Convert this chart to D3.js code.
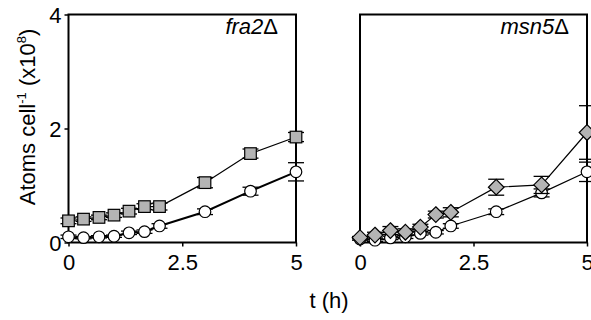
<!DOCTYPE html>
<html><head><meta charset="utf-8">
<script src="https://cdn.jsdelivr.net/npm/d3@7"></script>
<style>body{margin:0;background:#fff}svg{display:block}text{font-family:"Liberation Sans",Arial,sans-serif;fill:#000}</style>
</head><body>
<script>
const times = [0, 0.33, 0.67, 1, 1.33, 1.67, 2, 3, 4, 5];
const xTicks = [0, 2.5, 5];
const yTicks = [0, 2, 4];
// wild-type (open circles), shared by both panels
const wtLeft = [0.10, 0.085, 0.10, 0.11, 0.17, 0.19, 0.29, 0.54, 0.90, 1.24];
const wtLeftErr = [0.03, 0.02, 0.02, 0.02, 0.03, 0.03, 0.04, 0.05, 0.07, 0.16];
const fra2 = [0.38, 0.41, 0.44, 0.48, 0.55, 0.63, 0.63, 1.05, 1.56, 1.85];
const fra2Err = [0.05, 0.04, 0.04, 0.04, 0.05, 0.05, 0.06, 0.09, 0.08, 0.08];
const wtRight = [0.06, 0.04, 0.08, 0.10, 0.16, 0.18, 0.29, 0.54, 0.87, 1.24];
const wtRightErr = [0.02, 0.02, 0.03, 0.03, 0.03, 0.03, 0.04, 0.05, 0.07, 0.17];
const msn5 = [0.085, 0.13, 0.21, 0.18, 0.27, 0.49, 0.53, 0.97, 1.01, 1.93];
const msn5Err = [0.02, 0.05, 0.07, 0.06, 0.05, 0.06, 0.08, 0.14, 0.15, 0.47];
const panelLabels = ["fra2", "msn5"];

const W = 591, H = 320;
const FONT = '"Liberation Sans",Arial,sans-serif';
const svg = d3.select("body").append("svg").attr("width", W).attr("height", H);
const y = d3.scaleLinear().domain([0, 4]).range([242.5, 14.5]);

const panels = [
  {x0: 68.5, x1: 296, label: panelLabels[0], yLabels: true,
   series: [
     {vals: wtLeft, err: wtLeftErr, shape: "circle", lw: 2},
     {vals: fra2, err: fra2Err, shape: "square", lw: 1.2}
   ]},
  {x0: 360, x1: 587, label: panelLabels[1], yLabels: false,
   series: [
     {vals: wtRight, err: wtRightErr, shape: "circle", lw: 1.2},
     {vals: msn5, err: msn5Err, shape: "diamond", lw: 1.2}
   ]}
];

panels.forEach(p => {
  const x = d3.scaleLinear().domain([0, 5]).range([p.x0, p.x1]);
  const g = svg.append("g");
  const xa = d3.axisBottom(x).tickValues(xTicks).tickSize(4).tickPadding(3).tickFormat(d3.format("~g"));
  const gx = g.append("g").attr("transform", `translate(0,${y(0)})`).call(xa);
  gx.select(".domain").remove();
  gx.selectAll("line").attr("stroke", "#000").attr("stroke-width", 1.5);
  gx.selectAll("text").attr("font-size", 22).attr("dy", "0.93em").style("font-family", FONT);
  if (p.yLabels) {
    const ya = d3.axisLeft(y).tickValues(yTicks).tickSize(4).tickPadding(3).tickFormat(d3.format("~g"));
    const gy = g.append("g").attr("transform", `translate(${p.x0},0)`).call(ya);
    gy.select(".domain").remove();
    gy.selectAll("line").attr("stroke", "#000").attr("stroke-width", 1.5);
    gy.selectAll("text").attr("font-size", 22).attr("dy", "0.36em").style("font-family", FONT);
  }
  g.append("rect").attr("x", p.x0).attr("y", y(4)).attr("width", p.x1 - p.x0).attr("height", y(0) - y(4))
    .attr("fill", "none").attr("stroke", "#000").attr("stroke-width", 2);
  p.series.forEach(s => {
    const pts = times.map((t, i) => ({t, v: s.vals[i], e: s.err[i]}));
    g.append("path").datum(pts)
      .attr("d", d3.line().x(d => x(d.t)).y(d => y(d.v)))
      .attr("fill", "none").attr("stroke", "#000").attr("stroke-width", s.lw);
    const eb = g.append("g").attr("stroke", "#000").attr("stroke-width", 1.3);
    pts.forEach(d => {
      const lo = Math.max(0, d.v - d.e), hi = d.v + d.e;
      eb.append("line").attr("x1", x(d.t)).attr("x2", x(d.t)).attr("y1", y(lo)).attr("y2", y(hi));
      eb.append("line").attr("x1", x(d.t) - 8).attr("x2", x(d.t) + 8).attr("y1", y(hi)).attr("y2", y(hi));
      eb.append("line").attr("x1", x(d.t) - 8).attr("x2", x(d.t) + 8).attr("y1", y(lo)).attr("y2", y(lo));
    });
    const mk = g.append("g");
    pts.forEach(d => {
      const cx = x(d.t), cy = y(d.v);
      if (s.shape === "circle") {
        mk.append("circle").attr("cx", cx).attr("cy", cy).attr("r", 5.8)
          .attr("fill", "#fff").attr("stroke", "#000").attr("stroke-width", 1.2);
      } else if (s.shape === "square") {
        mk.append("rect").attr("x", cx - 5.8).attr("y", cy - 5.8).attr("width", 11.6).attr("height", 11.6)
          .attr("fill", "#b4b4b4").attr("stroke", "#000").attr("stroke-width", 1.2);
      } else {
        const r = 7.8;
        mk.append("path").attr("d", `M${cx},${cy - r}L${cx + r},${cy}L${cx},${cy + r}L${cx - r},${cy}Z`)
          .attr("fill", "#b4b4b4").attr("stroke", "#000").attr("stroke-width", 1.2);
      }
    });
  });
  const lt = g.append("text").attr("x", p.x1 - 18).attr("y", 34).attr("text-anchor", "end").attr("font-size", 22);
  lt.append("tspan").attr("font-style", "italic").text(p.label);
  lt.append("tspan").text("Δ");
});

const yt = svg.append("text").attr("transform", "translate(35,117) rotate(-90)")
  .attr("text-anchor", "middle").attr("font-size", 22);
yt.append("tspan").text("Atoms cell");
yt.append("tspan").attr("font-size", 13).attr("dy", -9).text("-1");
yt.append("tspan").attr("dy", 9).text(" (x10");
yt.append("tspan").attr("font-size", 13).attr("dy", -9).text("8");
yt.append("tspan").attr("dy", 9).text(")");

svg.append("text").attr("x", 329).attr("y", 308).attr("text-anchor", "middle").attr("font-size", 22).text("t (h)");
</script>
</body></html>
